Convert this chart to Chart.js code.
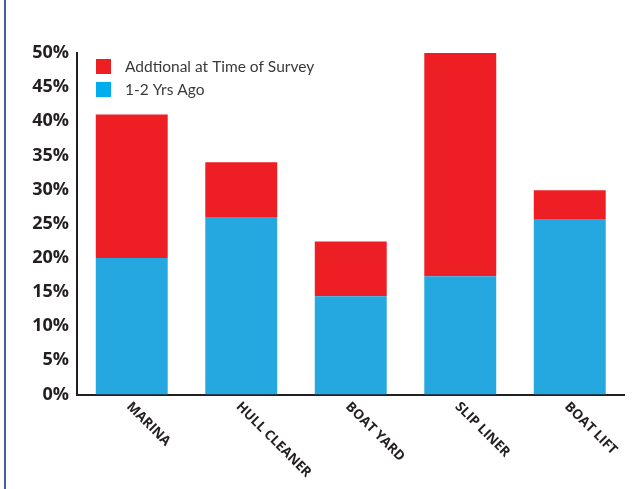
<!DOCTYPE html>
<html>
<head>
<meta charset="utf-8">
<script src="https://cdn.jsdelivr.net/npm/chart.js@4"></script>
<style>
    html, body { margin: 0; padding: 0; background: #fff; }
    #wrap { width: 638px; height: 489px; position: relative; }
</style>
</head>
<body>
<div id="wrap"><canvas id="surveyChart" width="638" height="489"></canvas></div>
<script>
// Chart data
const categories = ['MARINA', 'HULL CLEANER', 'BOAT YARD', 'SLIP LINER', 'BOAT LIFT'];
const yearsAgo = [20, 26, 14.4, 17.3, 25.7];
const additional = [21, 8, 8, 32.7, 4.2];
const yTicks = [0, 5, 10, 15, 20, 25, 30, 35, 40, 45, 50];

const RED = '#ed1f24';
const BLUE = '#25a8e0';
const INK = '#231f20';

// Left page border + rotated category labels + legend
const decorPlugin = {
    id: 'decor',
    beforeDraw(chart) {
        const ctx = chart.ctx;
        ctx.save();
        ctx.fillStyle = '#4b5da8';
        ctx.fillRect(4, 0, 2, chart.height);
        ctx.restore();
    },
    afterDraw(chart) {
        const ctx = chart.ctx;
        const xScale = chart.scales.x;
        const area = chart.chartArea;

        // category labels, rotated down to the right
        ctx.save();
        ctx.fillStyle = INK;
        ctx.font = 'bold 13.5px "Open Sans"';
        ctx.textAlign = 'left';
        ctx.textBaseline = 'middle';
        categories.forEach((label, i) => {
            ctx.save();
            ctx.translate(xScale.getPixelForValue(i) - 3, area.bottom + 10);
            ctx.rotate(Math.PI / 4);
            ctx.fillText(label, 0, 0);
            ctx.restore();
        });
        ctx.restore();

        // legend (top series listed first)
        ctx.save();
        ctx.font = '15.5px Lato';
        ctx.textBaseline = 'middle';
        ctx.textAlign = 'left';
        const items = chart.data.datasets.slice().reverse();
        items.forEach((ds, i) => {
            const y = 59 + i * 23;
            ctx.fillStyle = ds.legendColor;
            ctx.fillRect(96, y, 15, 15);
            ctx.fillStyle = '#3a3a3a';
            ctx.fillText(ds.label, 125, y + 8);
        });
        ctx.restore();
    }
};

function initializeChart() {
    const ctx = document.getElementById('surveyChart').getContext('2d');
    new Chart(ctx, {
        type: 'bar',
        data: {
            labels: categories,
            datasets: [{
                label: '1-2 Yrs Ago',
                data: yearsAgo,
                backgroundColor: BLUE,
                legendColor: '#00aeef',
                categoryPercentage: 0.657,
                barPercentage: 1
            }, {
                label: 'Addtional at Time of Survey',
                data: additional,
                backgroundColor: RED,
                legendColor: RED,
                categoryPercentage: 0.657,
                barPercentage: 1
            }]
        },
        options: {
            responsive: false,
            animation: false,
            layout: { padding: { top: 53, right: 13.5, left: 0, bottom: 0 } },
            plugins: {
                legend: { display: false },
                tooltip: { enabled: false }
            },
            scales: {
                x: {
                    stacked: true,
                    grid: { display: false, drawTicks: false },
                    border: { color: INK, width: 2 },
                    ticks: { display: false },
                    afterFit: function(scale) { scale.height = 94.5; }
                },
                y: {
                    stacked: true,
                    min: 0,
                    max: 50,
                    grid: { display: false, drawTicks: false },
                    border: { color: INK, width: 2 },
                    afterBuildTicks: function(scale) {
                        scale.ticks = yTicks.map(v => ({ value: v }));
                    },
                    afterFit: function(scale) { scale.width = 77; },
                    ticks: {
                        padding: 8,
                        color: INK,
                        font: { family: '"Open Sans"', size: 18, weight: 'bold' },
                        callback: function(value) { return value + '%'; }
                    }
                }
            }
        },
        plugins: [decorPlugin]
    });
}

document.addEventListener('DOMContentLoaded', initializeChart);
</script>
</body>
</html>
